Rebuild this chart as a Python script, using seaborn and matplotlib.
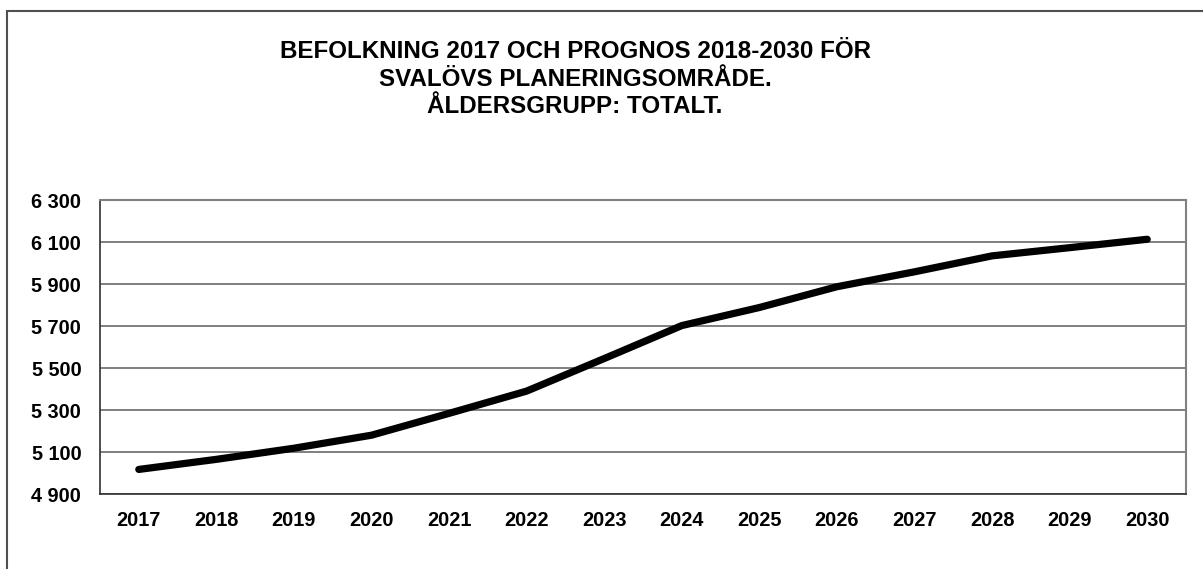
import seaborn as sns
import matplotlib.pyplot as plt
import matplotlib.patches as patches
import pandas as pd

# Data
years = [2017, 2018, 2019, 2020, 2021, 2022, 2023, 2024, 2025, 2026, 2027, 2028, 2029, 2030]
population = [5017, 5065, 5118, 5180, 5284, 5390, 5545, 5702, 5788, 5887, 5958, 6034, 6073, 6113]
y_ticks = [4900, 5100, 5300, 5500, 5700, 5900, 6100, 6300]
y_labels = ["4 900", "5 100", "5 300", "5 500", "5 700", "5 900", "6 100", "6 300"]
title = "BEFOLKNING 2017 OCH PROGNOS 2018-2030 FÖR\nSVALÖVS PLANERINGSOMRÅDE.\nÅLDERSGRUPP: TOTALT."

df = pd.DataFrame({"pos": range(len(years)), "year": years, "population": population})

sns.set_style("white")
plt.rcParams["font.family"] = ["Liberation Sans", "DejaVu Sans"]
plt.rcParams["text.color"] = "black"
plt.rcParams["xtick.labelcolor"] = "black"
plt.rcParams["ytick.labelcolor"] = "black"

W, H = 1203, 569
fig = plt.figure(figsize=(W / 100, H / 100), dpi=100)
ax = fig.add_axes([100 / W, 1 - 494 / H, (1186 - 100) / W, (494 - 200) / H])

# outer chart frame (only top and left edges visible)
fig.patches.append(patches.Rectangle((7 / W, -0.1), 1.2, 1 - 11 / H + 0.1,
                                     transform=fig.transFigure, fill=False,
                                     edgecolor="#505050", linewidth=1.5))

sns.lineplot(data=df, x="pos", y="population", ax=ax, color="black",
             linewidth=5.2, solid_capstyle="round", solid_joinstyle="round")

ax.set_xlim(-0.5, len(years) - 0.5)
ax.set_ylim(4900, 6300)
ax.set_yticks(y_ticks)
ax.set_yticklabels(y_labels, fontsize=14.3, fontweight="bold", color="black")
ax.set_xticks(range(len(years)))
ax.set_xticklabels([str(y) for y in years], fontsize=14.3, fontweight="bold", color="black")
ax.set_xticks([i - 0.5 for i in range(len(years) + 1)], minor=True)
ax.tick_params(axis="x", which="major", length=0, pad=12)
ax.tick_params(axis="x", which="minor", length=4.5, width=1, color="#404040", direction="out")
ax.tick_params(axis="y", length=4.5, width=1, color="#404040", direction="out", pad=9)
ax.set_xlabel("")
ax.set_ylabel("")

ax.grid(axis="y", color="#6a6a6a", linewidth=1.2)
ax.grid(axis="x", visible=False)
for side in ["left", "bottom"]:
    ax.spines[side].set_color("#303030")
    ax.spines[side].set_linewidth(1.2)
for side in ["top", "right"]:
    ax.spines[side].set_color("#808080")
    ax.spines[side].set_linewidth(1.5)

fig.text(575 / W, 1 - 79 / H, title, ha="center", va="center", fontsize=17.4,
         fontweight="bold", linespacing=1.235, color="black")

fig.savefig("out.png", dpi=100)
